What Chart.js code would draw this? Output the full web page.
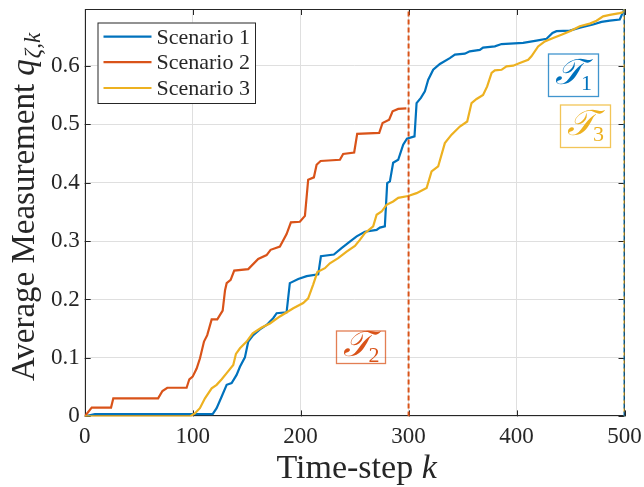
<!DOCTYPE html>
<html>
<head>
<meta charset="utf-8">
<script src="https://cdn.jsdelivr.net/npm/chart.js@4/dist/chart.umd.min.js"></script>
<style>
html,body{margin:0;padding:0;background:#fff;}
#wrap{width:644px;height:487px;position:relative;}
</style>
</head>
<body>
<div id="wrap"><canvas id="c" width="644" height="487"></canvas></div>
<script>
// ---- Data ----
const seriesLabels = ['Scenario 1', 'Scenario 2', 'Scenario 3'];
const seriesColors = ['#0072BD', '#D95319', '#EDB120'];

const scenario1K = [0,9.5,118.5,122.2,126.9,131.5,136.1,140.7,143.8,148.4,151.5,156.1,162.3,168.5,174.6,177.8,187,190,197.8,205.6,216.3,218.8,230.8,237.9,245.6,251.9,259.5,270.4,273.4,278,280.2,282.7,285.7,290.4,295,298.5,305.5,307.4,311.4,315.1,318.2,322.8,329,338.2,342.9,352.1,356.7,366,369,379.9,386.1,406.1,418.5,427.8,433.3,437,449.4,458.6,470.9,478.7,486.4,495.6,498.7,500];
const scenario1Q = [0,0.004,0.004,0.014,0.034,0.054,0.057,0.071,0.085,0.101,0.128,0.139,0.149,0.1565,0.168,0.1765,0.178,0.228,0.235,0.240,0.243,0.274,0.277,0.288,0.299,0.308,0.316,0.319,0.323,0.325,0.399,0.402,0.434,0.439,0.465,0.475,0.479,0.536,0.545,0.556,0.576,0.593,0.603,0.613,0.619,0.6205,0.6245,0.627,0.631,0.633,0.637,0.639,0.643,0.646,0.656,0.659,0.66,0.665,0.6705,0.675,0.677,0.679,0.692,0.697];

const scenario2K = [0,6.5,24.4,26.5,68,72,76.5,94.4,96.9,100,103.7,106.8,110.5,113.5,117.6,122.8,127.8,130,131.5,135.2,138.5,151.5,160.7,168.5,172.2,180.8,187,191,199.3,204,207,212.3,214.8,218.5,236.4,239.4,249.6,252.4,272.8,275.9,282,285.2,290.4,298];
const scenario2Q = [0,0.015,0.015,0.031,0.031,0.0435,0.049,0.049,0.0635,0.068,0.082,0.0995,0.128,0.139,0.166,0.166,0.181,0.216,0.228,0.2335,0.2495,0.252,0.2695,0.276,0.285,0.2906,0.312,0.332,0.333,0.343,0.405,0.409,0.4305,0.437,0.439,0.449,0.4515,0.4835,0.485,0.502,0.5075,0.522,0.526,0.527];

const scenario3K = [0,97.5,102,106.7,111.4,117.6,122.2,126.9,131.5,137.6,140.1,143.8,150,155.6,163.9,171.6,180.8,193.2,202.4,207,211.7,215.5,222.5,227.1,234.8,242.6,250.3,254.9,259.5,267.2,270.4,275,279.6,285.7,290.4,299.6,307.4,316.7,321.3,327.4,333.6,339.8,347.5,354.3,358.3,363,369,372.8,376.9,379.9,386.1,390.7,396.9,403,410.8,413.8,420,426.2,433.9,441.6,449.4,458.6,467.9,474.1,480.2,486.4,495.6,500];
const scenario3Q = [0,0,0.005,0.014,0.031,0.048,0.054,0.0635,0.074,0.088,0.107,0.1166,0.128,0.142,0.152,0.159,0.171,0.185,0.194,0.202,0.226,0.247,0.2536,0.262,0.2707,0.282,0.2918,0.302,0.3135,0.325,0.345,0.3505,0.362,0.3677,0.374,0.377,0.382,0.3906,0.419,0.4276,0.4676,0.482,0.496,0.5046,0.536,0.543,0.55,0.5646,0.5875,0.592,0.593,0.599,0.6,0.6046,0.61,0.616,0.633,0.6416,0.6475,0.653,0.659,0.6675,0.672,0.677,0.6845,0.687,0.69,0.692];

// stopping times (vertical dashed markers)
const stopTimes = [500, 300, 500];
const xTicks = [0, 100, 200, 300, 400, 500];
const yTicks = [0, 0.1, 0.2, 0.3, 0.4, 0.5, 0.6];
const xMax = 500;
const yMax = 0.697;
const annotationLabels = ['1', '2', '3'];

// ---- build datasets ----
function pts(ks, qs){ return ks.map((k,i)=>({x:k, y:qs[i]})); }
const lineSets = [[scenario1K,scenario1Q],[scenario2K,scenario2Q],[scenario3K,scenario3Q]];
const datasets = [];
lineSets.forEach((s,i)=>{
  datasets.push({
    label: seriesLabels[i], data: pts(s[0], s[1]),
    borderColor: seriesColors[i], borderWidth: 2.2, pointRadius: 0,
    tension: 0, fill: false, order: 3 - i, isSeries: true
  });
});
const dashOffsets = [0, 0, 4];
stopTimes.forEach((t,i)=>{
  datasets.push({
    label: 'stop' + (i+1), data: [{x:t,y:0},{x:t,y:yMax}],
    borderColor: seriesColors[i], borderWidth: 2, borderDash: [5,3],
    borderDashOffset: dashOffsets[i], pointRadius: 0, fill:false, order: 0, isSeries:false
  });
});

const SERIF = '"Liberation Serif", "DejaVu Serif", serif';
const INK = '#262626';

const decor = {
  id: 'decor',
  beforeDatasetsDraw(chart){
    const ctx = chart.ctx;
    const a = chart.chartArea;
    const xs = chart.scales.x, ys = chart.scales.y;
    ctx.save();
    ctx.strokeStyle = INK; ctx.lineWidth = 1;
    ctx.strokeRect(Math.round(a.left)+0.5, Math.round(a.top)+0.5, Math.round(a.right-a.left)-1, Math.round(a.bottom-a.top)-1);
    ctx.beginPath();
    xTicks.forEach(v=>{
      const px = Math.round(xs.getPixelForValue(v))+0.5;
      ctx.moveTo(px, a.bottom); ctx.lineTo(px, a.bottom-6);
      ctx.moveTo(px, a.top); ctx.lineTo(px, a.top+6);
    });
    yTicks.forEach(v=>{
      const py = Math.round(ys.getPixelForValue(v))+0.5;
      ctx.moveTo(a.left, py); ctx.lineTo(a.left+6, py);
      ctx.moveTo(a.right, py); ctx.lineTo(a.right-6, py);
    });
    ctx.stroke();
    ctx.restore();
  },
  afterDraw(chart){
    const ctx = chart.ctx;
    const a = chart.chartArea;
    ctx.save();
    ctx.fillStyle = INK;
    ctx.textBaseline = 'alphabetic';
    ctx.textAlign = 'left';
    // x title
    const t1 = 'Time-step ';
    ctx.font = '34px ' + SERIF;
    const w1 = ctx.measureText(t1).width;
    ctx.font = 'italic 34px ' + SERIF;
    const w2 = ctx.measureText('k').width;
    let sx = (a.left + a.right)/2 - (w1+w2)/2 + 2;
    ctx.font = '34px ' + SERIF;
    ctx.fillText(t1, sx, 478);
    ctx.font = 'italic 34px ' + SERIF;
    ctx.fillText('k', sx + w1, 478);
    // y title (rotated)
    ctx.save();
    ctx.translate(34, 207);
    ctx.rotate(-Math.PI/2);
    const yt = 'Average Measurement ';
    ctx.font = '33px ' + SERIF;
    const wy1 = ctx.measureText(yt).width;
    ctx.font = 'italic 33px ' + SERIF;
    const wy2 = ctx.measureText('q').width;
    ctx.font = 'italic 23px ' + SERIF;
    const wy3 = ctx.measureText('ζ,k').width;
    const tot = wy1 + wy2 + wy3 + 1;
    let yx = -tot/2;
    ctx.font = '33px ' + SERIF;
    ctx.fillText(yt, yx, 0);
    ctx.font = 'italic 33px ' + SERIF;
    ctx.fillText('q', yx + wy1, 0);
    ctx.font = 'italic 23px ' + SERIF;
    ctx.fillText('ζ,k', yx + wy1 + wy2 + 1, 6);
    ctx.restore();

    // legend
    const lx = 97.5, ly = 22.5, lw = 157.5, lh = 80.5;
    ctx.fillStyle = '#fff';
    ctx.fillRect(lx, ly, lw, lh);
    ctx.strokeStyle = INK; ctx.lineWidth = 1;
    ctx.strokeRect(lx+0.5, ly+0.5, lw, lh);
    const rows = [36.7, 62.2, 88];
    chart.data.datasets.filter(d=>d.isSeries).forEach((d,i)=>{
      ctx.strokeStyle = d.borderColor; ctx.lineWidth = 2.2;
      ctx.beginPath(); ctx.moveTo(103.5, rows[i]); ctx.lineTo(151.5, rows[i]); ctx.stroke();
      ctx.fillStyle = INK; ctx.font = '22px ' + SERIF; ctx.textAlign = 'left';
      ctx.fillText(d.label, 156.5, rows[i] + 7);
    });

    // annotation boxes
    const boxes = [
      {i:0, x:548.5, y:54, w:50, h:42.5},
      {i:1, x:336.5, y:331, w:49, h:32.5},
      {i:2, x:560.5, y:105, w:50, h:42.5}
    ];
    boxes.forEach(b=>{
      const col = seriesColors[b.i];
      ctx.globalAlpha = 0.75;
      ctx.strokeStyle = col; ctx.lineWidth = 1.3;
      ctx.strokeRect(b.x, b.y, b.w, b.h);
      ctx.globalAlpha = 1;
      ctx.fillStyle = col;
      ctx.font = 'italic 36px ' + SERIF;
      const T = '\u{1D4AF}';
      const wT = ctx.measureText(T).width;
      ctx.font = '22px ' + SERIF;
      const wS = ctx.measureText(annotationLabels[b.i]).width;
      const cx = b.x + b.w/2 - (wT + wS)/2 + 1;
      const base = b.y + b.h/2 + 9;
      ctx.font = 'italic 36px ' + SERIF;
      ctx.fillText(T, cx, base);
      ctx.font = '22px ' + SERIF;
      ctx.fillText(annotationLabels[b.i], cx + wT - 2, base + 6);
    });
    ctx.restore();
  }
};

new Chart(document.getElementById('c'), {
  type: 'line',
  data: { datasets },
  options: {
    responsive: false, animation: false,
    layout: { padding: { left: 0, right: 19.5, top: 9, bottom: 0 } },
    plugins: { legend: { display: false }, tooltip: { enabled: false } },
    scales: {
      x: {
        type: 'linear', min: 0, max: xMax,
        afterBuildTicks: s => { s.ticks = xTicks.map(v=>({value:v})); },
        afterFit: s => { s.height = 70.6; s.paddingLeft = 0; s.paddingRight = 0; },
        ticks: { font: { family: SERIF, size: 23 }, color: INK, padding: 7, maxRotation: 0,
                 callback: v => String(v) },
        grid: { color: '#dfdfdf', drawTicks: false, lineWidth: 1 },
        border: { display: false }
      },
      y: {
        type: 'linear', min: 0, max: yMax,
        afterBuildTicks: s => { s.ticks = yTicks.map(v=>({value:v})); },
        afterFit: s => { s.width = 84.7; s.paddingTop = 0; s.paddingBottom = 0; },
        ticks: { font: { family: SERIF, size: 23 }, color: INK, padding: 5,
                 callback: v => v === 0 ? '0' : v.toFixed(1) },
        grid: { color: '#dfdfdf', drawTicks: false, lineWidth: 1 },
        border: { display: false }
      }
    }
  },
  plugins: [decor]
});
</script>
</body>
</html>
